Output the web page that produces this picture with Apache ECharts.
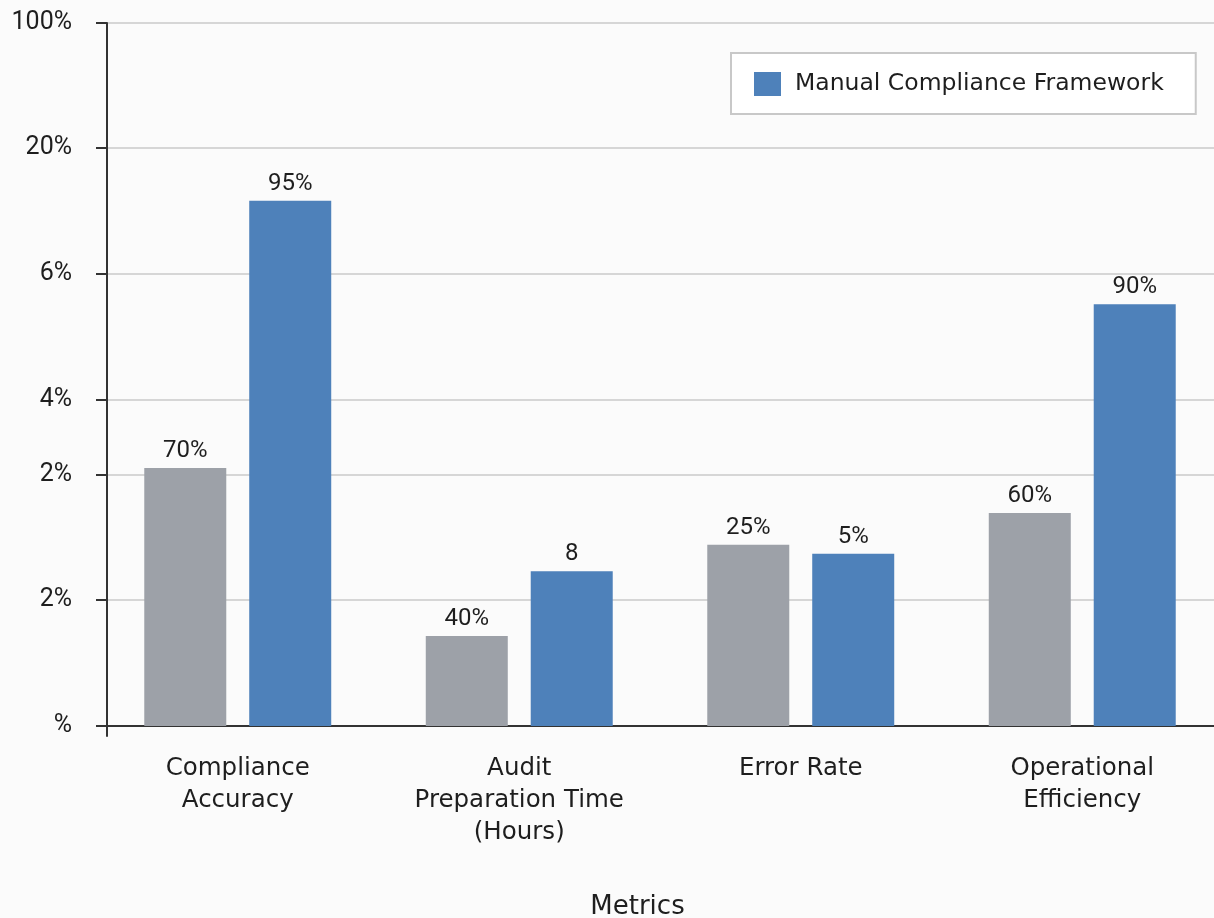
<!DOCTYPE html>
<html>
<head>
<meta charset="utf-8">
<script src="https://cdn.jsdelivr.net/npm/echarts@6/dist/echarts.min.js"></script>
<style>
  html, body { margin: 0; padding: 0; background: #fbfbfb; }
  #chart { width: 1214px; height: 918px; }
</style>
</head>
<body>
<div id="chart"></div>
<script>
// ---- data ----
const categories = ['Compliance\nAccuracy', 'Audit\nPreparation Time\n(Hours)', 'Error Rate', 'Operational\nEfficiency'];
const baselineValues = [36.7, 12.8, 25.8, 30.3];
const manualValues = [74.7, 22.0, 24.5, 60.0];
const baselineLabels = ['70%', '40%', '25%', '60%'];
const manualLabels = ['95%', '8', '5%', '90%'];
const yTickValues = [0, 17.9, 35.8, 46.4, 64.3, 82.2, 100];
const yTickLabels = ['%', '2%', '2%', '4%', '6%', '20%', '100%'];
const legendName = 'Manual Compliance Framework';
const xAxisName = 'Metrics';

function yLabel(v) {
  let best = 0, bd = Infinity;
  yTickValues.forEach((t, i) => { const d = Math.abs(t - v); if (d < bd) { bd = d; best = i; } });
  return bd < 0.5 ? yTickLabels[best] : '';
}

const chart = echarts.init(document.getElementById('chart'));
chart.setOption({
  backgroundColor: '#fbfbfb',
  animation: false,
  legend: {
    data: [legendName],
    left: 731,
    top: 53,
    padding: [19, 32, 18, 23],
    backgroundColor: '#ffffff',
    borderColor: '#c8c8c8',
    borderWidth: 2,
    icon: 'rect',
    itemWidth: 27,
    itemHeight: 24,
    textStyle: { fontFamily: 'DejaVu Sans', fontSize: 23.5, color: '#1e1e1e', padding: [0, 0, 0, 9] }
  },
  grid: { left: 97, top: 23, width: 1126, bottom: 182, containLabel: false, outerBoundsMode: 'none' },
  xAxis: {
    type: 'category',
    data: categories,
    axisLine: { onZero: true, lineStyle: { color: '#333', width: 2 } },
    axisTick: { length: 10, lineStyle: { color: '#333', width: 2 } },
    axisLabel: { margin: 17, fontFamily: 'DejaVu Sans', fontSize: 24.5, lineHeight: 32, color: '#1e1e1e', interval: 0 },
    name: xAxisName,
    nameLocation: 'middle',
    nameGap: 158,
    nameTextStyle: { fontFamily: 'DejaVu Sans', fontSize: 26, color: '#1e1e1e', padding: [0, 45, 0, 0] }
  },
  yAxis: {
    type: 'value',
    min: -1.42,
    max: 100,
    offset: -10,
    axisLine: { show: true, lineStyle: { color: '#333', width: 2 } },
    axisTick: { show: true, length: 11, customValues: yTickValues, lineStyle: { color: '#333', width: 2 } },
    axisLabel: { customValues: yTickValues, formatter: yLabel, margin: 35, fontFamily: 'Roboto', fontSize: 25, color: '#1e1e1e' },
    splitLine: { show: true, lineStyle: { color: '#d6d6d6', width: 2 } }
  },
  series: [
    {
      name: 'Baseline',
      type: 'bar',
      data: baselineValues,
      barWidth: 82,
      barGap: '28%',
      itemStyle: { color: '#9da1a8' },
      label: { show: true, position: 'top', distance: 5, fontFamily: 'Roboto', fontSize: 24, color: '#1e1e1e',
        formatter: p => baselineLabels[p.dataIndex] }
    },
    {
      name: legendName,
      type: 'bar',
      data: manualValues,
      barWidth: 82,
      barGap: '28%',
      itemStyle: { color: '#4e81ba' },
      label: { show: true, position: 'top', distance: 5, fontFamily: 'Roboto', fontSize: 24, color: '#1e1e1e',
        formatter: p => manualLabels[p.dataIndex] }
    }
  ]
});
</script>
</body>
</html>
